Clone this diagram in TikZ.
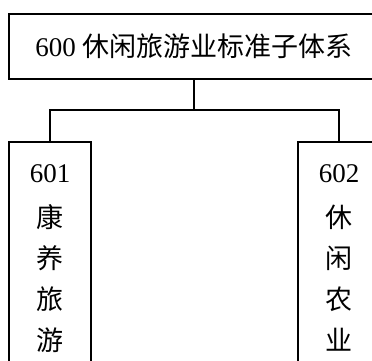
\documentclass[tikz,border=0pt]{standalone}
\usepackage{fontspec}
\setmainfont{Liberation Serif}
\newfontfamily\cjk{Noto Sans CJK SC}
\newcommand{\zh}[1]{{\cjk #1}}
\usetikzlibrary{calc}

\begin{document}
\begin{tikzpicture}[
            x = 1pt, y = -1pt, % picture units, y going down
            line width = 1.6pt, % line style
            font = \fontsize{27}{41}\selectfont
        ]

        \tikzstyle{rootbox}=[
        draw = black,
        rectangle,
        inner sep = 0pt,
        minimum width = 370pt,
        minimum height = 65pt
        ]

        \tikzstyle{leafbox}=[
        draw = black,
        rectangle,
        anchor = north,
        align = center,
        inner xsep = 0pt,
        inner ysep = 23pt,
        minimum width = 82pt
        ]

        \useasboundingbox (0,0) rectangle (372,360);
        \clip (0,0) rectangle (372,360);

        \node[rootbox] (600) at (194,46.5) {600 \zh{休闲旅游业标准子体系}};
        \node[leafbox] (601) at (50,141) {601\\[4pt]\zh{康}\\\zh{养}\\\zh{旅}\\\zh{游}};
        \node[leafbox] (602) at (339,141) {602\\[4pt]\zh{休}\\\zh{闲}\\\zh{农}\\\zh{业}};

        \coordinate (fork) at ($(600.south)+(0,30)$);

        \draw (600.south) -- (fork);
        \draw (601.north) |- (fork) -| (602.north);
    \end{tikzpicture}
\end{document}
